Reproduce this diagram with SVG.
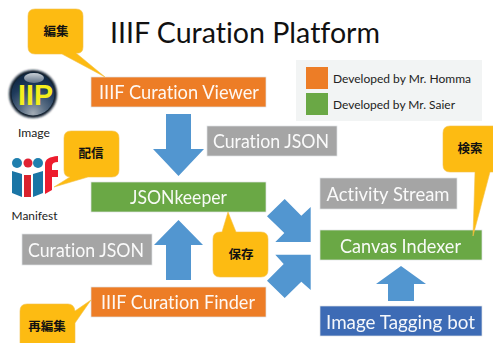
<svg xmlns="http://www.w3.org/2000/svg" width="493" height="343" viewBox="0 0 493 343">
<defs>
<radialGradient id="orb" cx="50%" cy="95%" r="85%"><stop offset="0" stop-color="#a3acb5"/><stop offset="0.35" stop-color="#5a6e84"/><stop offset="0.75" stop-color="#1f3b5c"/><stop offset="1" stop-color="#122a46"/></radialGradient>
<linearGradient id="gloss" x1="0" y1="0" x2="0" y2="1"><stop offset="0" stop-color="#c9d0d6"/><stop offset="1" stop-color="#5f7186"/></linearGradient>
<filter id="blur" x="-20%" y="-20%" width="140%" height="140%"><feGaussianBlur stdDeviation="1.2"/></filter>
</defs>
<style>
text{font-family:"Lato","Liberation Sans",sans-serif;font-variant-ligatures:none}
.box{stroke:#dfe3e6;stroke-width:.7}
.lab{fill:#fff;font-size:18.500px;text-anchor:middle;dominant-baseline:central;opacity:.95}
.grey{fill:#a5a5a5}.or{fill:#ed7d26}.gr{fill:#6aa845}.bl{fill:#3d6bb5}
.arr{fill:#5296d0}
.call{fill:#fdbb12;stroke:#f3c14a;stroke-width:.6}
.ct{font-family:"Noto Sans CJK JP",sans-serif;font-weight:700;font-size:12.500px;fill:#111;text-anchor:middle;dominant-baseline:central}
.leg{font-size:11.500px;fill:#222;dominant-baseline:central}
.cap{font-size:11.500px;fill:#222;text-anchor:middle;dominant-baseline:central}
</style>
<rect width="493" height="343" fill="#fff"/>
<text id="title" x="110" y="43" font-size="29" font-weight="400" fill="#111" textLength="270" lengthAdjust="spacingAndGlyphs">IIIF Curation Platform</text>

<g id="legend">
<rect x="296" y="60" width="186" height="61" fill="#f2f4f4"/>
<rect x="306" y="67" width="22" height="22" class="or"/>
<rect x="306" y="93" width="22" height="22" class="gr"/>
<text x="333" y="78" class="leg" textLength="138" lengthAdjust="spacingAndGlyphs">Developed by Mr. Homma</text>
<text x="333" y="104" class="leg" textLength="122" lengthAdjust="spacingAndGlyphs">Developed by Mr. Saier</text>
</g>

<g id="connectors">
<polygon class="arr" points="166,114 191,114 191,149 204,149 178.500,176 153,149 166,149"/>
<polygon class="arr" points="178.500,220 203,245 191,245 191,280 166,280 166,245 154,245"/>
<polygon class="arr" points="401,266 426,284 414,284 414,301 388,301 388,284 376,284"/>
<polygon class="arr" points="284.700,199 301.300,215.700 310.700,207 310.700,242 275.300,242 284.300,233 267,216.300"/>
<polygon class="arr" points="284.700,298 301.300,281.700 310.700,290 310.700,254.700 275.300,254.700 283.700,264 267,280.700"/>
</g>

<g id="iip-logo">
<circle cx="33" cy="94" r="24" fill="#0c1c2c" filter="url(#blur)"/>
<circle cx="33" cy="94" r="21.500" fill="url(#orb)"/>
<ellipse cx="34" cy="78" rx="10" ry="5" fill="url(#gloss)"/>
<text x="35.500" y="105" font-size="29" font-weight="700" fill="#f4ee1c" text-anchor="middle" style="font-family:'Liberation Sans',sans-serif" textLength="35" lengthAdjust="spacingAndGlyphs">IIP</text>
<text x="34" y="132" class="cap" textLength="32" lengthAdjust="spacingAndGlyphs">Image</text>
</g>

<g id="iiif-logo">
<circle cx="17" cy="163" r="5" fill="#1f7fae"/>
<circle cx="28" cy="163" r="4.500" fill="#e02233"/>
<circle cx="38" cy="163" r="5" fill="#1f7fae"/>
<polygon points="12,171 22,174 22,197 12,193" fill="#1a75a5"/>
<polygon points="24,175 31,175 31,197 24,197" fill="#d9232e"/>
<polygon points="33,174 43,171 43,193 33,197" fill="#1a75a5"/>
<path d="M45,170V164Q45,157 58,156V162Q52,162 52,166V170H58V177H52V190L45,194V177Z" fill="#ed1c2e"/>
<text x="34.500" y="215" class="cap" textLength="46" lengthAdjust="spacingAndGlyphs">Manifest</text>
</g>

<g id="viewer"><rect class="box or" x="91" y="77" width="175" height="30"/><text class="lab" x="179" y="92" textLength="160" lengthAdjust="spacingAndGlyphs">IIIF Curation Viewer</text></g>
<g id="curation-json-top"><rect class="box grey" x="207" y="126" width="130" height="30"/><text class="lab" x="271" y="141" textLength="116" lengthAdjust="spacingAndGlyphs">Curation JSON</text></g>
<g id="jsonkeeper"><rect class="box gr" x="91" y="182" width="175" height="30"/><text class="lab" x="178.500" y="197" textLength="97" lengthAdjust="spacingAndGlyphs">JSONkeeper</text></g>
<g id="curation-json-bottom"><rect class="box grey" x="22" y="234" width="130" height="31"/><text class="lab" x="86" y="250" textLength="116" lengthAdjust="spacingAndGlyphs">Curation JSON</text></g>
<g id="finder"><rect class="box or" x="91" y="287" width="175" height="30"/><text class="lab" x="178" y="302" textLength="154" lengthAdjust="spacingAndGlyphs">IIIF Curation Finder</text></g>
<g id="activity-stream"><rect class="box grey" x="320" y="178" width="137" height="31"/><text class="lab" x="388" y="194" textLength="123" lengthAdjust="spacingAndGlyphs">Activity Stream</text></g>
<g id="canvas-indexer"><rect class="box gr" x="320" y="230" width="162" height="30"/><text class="lab" x="400.500" y="246" textLength="121" lengthAdjust="spacingAndGlyphs">Canvas Indexer</text></g>
<g id="tagging-bot"><rect class="box bl" x="320" y="306" width="162" height="30"/><text class="lab" x="400.500" y="322" textLength="149" lengthAdjust="spacingAndGlyphs">Image Tagging bot</text></g>

<g id="call-edit"><path class="call" d="M35,9H76Q83,9 83,16V47Q83,54 76,53L105,77L62,54H35Q28,54 28,47V16Q28,9 35,9Z"/><text class="ct" x="56" y="30">編集</text></g>
<g id="call-deliver"><path class="call" d="M71,131H112Q119,131 119,138V170Q119,177 112,177H88L54,187L70,177Q64,177 64,170V138Q64,131 71,131Z"/><text class="ct" x="91" y="152">配信</text></g>
<g id="call-save"><path class="call" d="M220,232H222L228,212L236,232H261Q268,232 268,239V270Q268,277 261,277H220Q213,277 213,270V239Q213,232 220,232Z"/><text class="ct" x="241" y="253">保存</text></g>
<g id="call-reedit"><path class="call" d="M27,304H68Q74,304 75,311L91,300L75,323V350H20V311Q20,304 27,304Z"/><text class="ct" x="47" y="325">再編集</text></g>
<g id="call-search"><path class="call" d="M450,126H498V172H490L473,236L475,172H450Q443,172 443,165V133Q443,126 450,126Z"/><text class="ct" x="470" y="147">検索</text></g>
</svg>
